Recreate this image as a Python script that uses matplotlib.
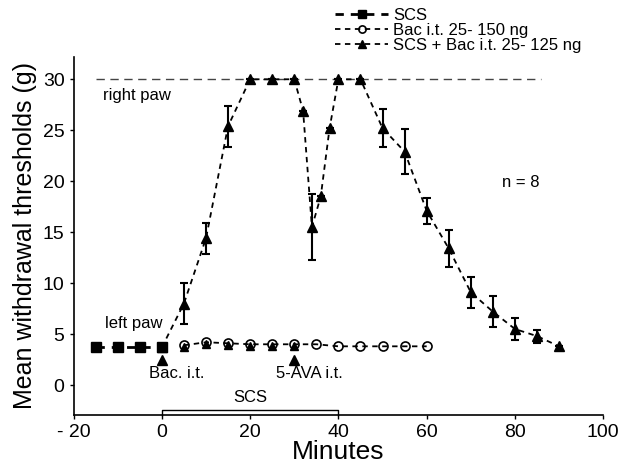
import matplotlib
matplotlib.use("Agg")
import matplotlib.pyplot as plt

plt.rcParams['font.family'] = ['Liberation Sans', 'DejaVu Sans']

# SCS alone (left paw)
scs_x = [-15, -10, -5, 0]
scs_y = [3.7, 3.7, 3.7, 3.7]

# Baclofen i.t. 25-150 ng (left paw)
bac_x = [5, 10, 15, 20, 25, 30, 35, 40, 45, 50, 55, 60]
bac_y = [3.9, 4.2, 4.1, 4.0, 4.0, 4.0, 4.0, 3.8, 3.8, 3.8, 3.8, 3.8]

# SCS + Bac i.t. 25-125 ng (right paw)
combo_x = [0, 5, 10, 15, 20, 25, 30, 32, 34, 36, 38, 40, 45, 50, 55, 60, 65, 70, 75, 80, 85, 90]
combo_y = [3.7, 8.0, 14.4, 25.4, 30, 30, 30, 26.9, 15.5, 18.5, 25.2, 30, 30, 25.2, 22.9, 17.1, 13.4, 9.1, 7.2, 5.5, 4.8, 3.8]
combo_err = [0, 2.0, 1.5, 2.0, 0, 0, 0, 0, 3.2, 0, 0, 0, 0, 1.85, 2.2, 1.25, 1.8, 1.5, 1.5, 1.05, 0.65, 0]

# SCS + Bac group, left paw during stimulation
combo_left_x = [5, 10, 15, 20, 25, 30]
combo_left_y = [3.75, 4.0, 3.9, 3.85, 3.85, 3.85]

cutoff = 30
cutoff_span = [-15, 86]
injections_x = [0, 30]
injection_labels = ["Bac. i.t.", "5-AVA i.t."]
scs_period = [0, 40]

xticks = [-20, 0, 20, 40, 60, 80, 100]
xticklabels = ["- 20", "0", "20", "40", "60", "80", "100"]
yticks = [0, 5, 10, 15, 20, 25, 30]

fig = plt.figure(figsize=(6.29, 4.66), dpi=100)
ax = fig.add_axes([0.117, 0.1094, 0.842, 0.7686])

# 30 g cut-off line
ax.plot(cutoff_span, [cutoff, cutoff], color='#444444', lw=1.0, ls=(0, (6, 4)), zorder=1)

dash = (0, (3, 2.5))
ax.plot(combo_left_x, combo_left_y, ls='none', marker='^', ms=6, color='black', zorder=2)

ax.errorbar(combo_x, combo_y, yerr=combo_err,
            fmt='none', ecolor='black', elinewidth=1.5, capsize=3, capthick=1.5, zorder=3)
l3, = ax.plot(combo_x, combo_y, ls=dash, lw=1.3, color='black', marker='^', ms=7,
              label='SCS + Bac i.t. 25- 125 ng', zorder=4)
l2, = ax.plot(bac_x, bac_y, ls=dash, lw=1.3, color='black', marker='o', ms=6.5,
              mfc='none', mew=1.2, label='Bac i.t. 25- 150 ng', zorder=5)
l1, = ax.plot(scs_x, scs_y, ls=dash, lw=2.0, color='black', marker='s', ms=7.5,
              label='SCS', zorder=6)

# injection markers
ax.plot(injections_x, [2.5, 2.5], ls='none', marker='^', ms=7, color='black', zorder=4)
for xi, lab in zip(injections_x, injection_labels):
    ax.text(xi + 3.4, 1.1, lab, ha='center', va='center', fontsize=12)

# SCS period bracket
ax.plot([scs_period[0], scs_period[0], scs_period[1], scs_period[1]],
        [-2.94, -2.4, -2.4, -2.94], color='black', lw=1.0, clip_on=False)
ax.text(sum(scs_period) / 2, -1.2, "SCS", ha='center', va='center', fontsize=12)

ax.text(-13.3, 28.4, "right paw", ha='left', va='center', fontsize=12)
ax.text(-12.9, 6.0, "left paw", ha='left', va='center', fontsize=12)
ax.text(81.4, 19.9, "n = 8", ha='center', va='center', fontsize=12)

ax.set_xlim(-20, 100)
ax.set_ylim(-2.94, 32.2)
ax.set_xticks(xticks)
ax.set_xticklabels(xticklabels)
ax.set_yticks(yticks)
ax.tick_params(axis='both', labelsize=14, length=3, width=1.0, direction='out')
for s in ['top', 'right']:
    ax.spines[s].set_visible(False)
for s in ['left', 'bottom']:
    ax.spines[s].set_linewidth(1.2)

ax.set_xlabel("Minutes", fontsize=19, labelpad=-1)
ax.set_ylabel("Mean withdrawal thresholds (g)", fontsize=18, labelpad=4)

leg = ax.legend(handles=[l1, l2, l3], loc='upper left', bbox_to_anchor=(325 / 629, 1.005),
                bbox_transform=fig.transFigure, frameon=False, fontsize=12,
                handlelength=3.2, handletextpad=0.3, labelspacing=0.0,
                borderpad=0.1, markerscale=0.8)

fig.savefig("out.png", dpi=100)
